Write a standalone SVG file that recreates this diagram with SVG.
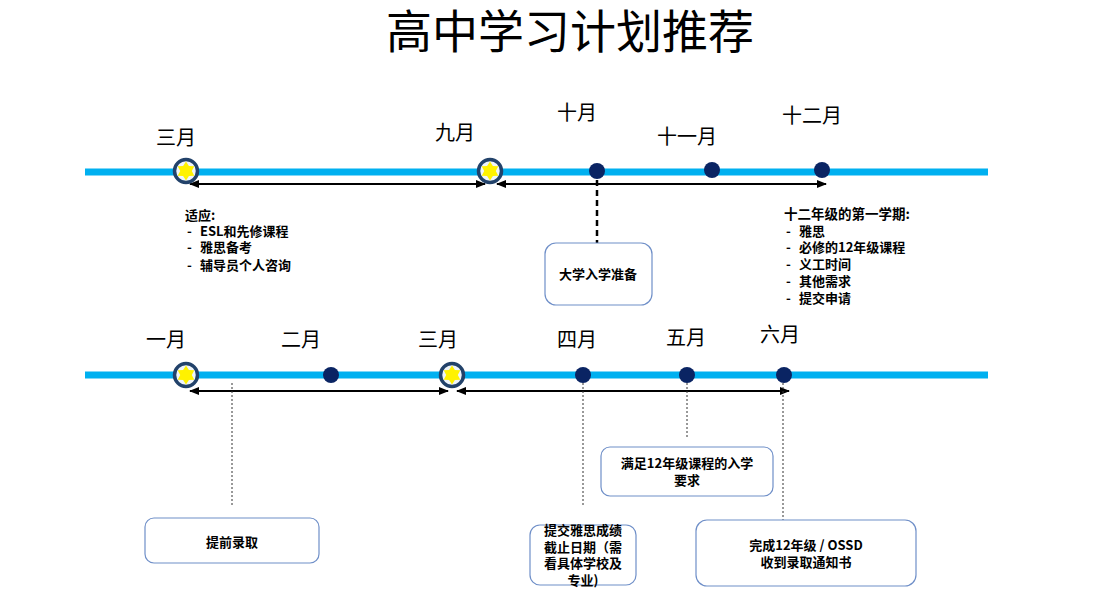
<svg xmlns="http://www.w3.org/2000/svg" width="1100" height="590" viewBox="0 0 1100 590">
<defs>
<style>
.t{font-family:"Noto Sans CJK SC","Liberation Sans",sans-serif;fill:#000}
.title{font-size:46px;font-weight:400}
.m{font-size:20px;font-weight:400;text-anchor:middle}
.b{font-size:13px;font-weight:700}
.bc{font-size:13px;font-weight:700;text-anchor:middle}
.tl{stroke:#00B0F0;stroke-width:7}
.dot{fill:#0A2463}
.arr{stroke:#000;stroke-width:2;fill:none;marker-start:url(#ah);marker-end:url(#ah)}
.box{fill:#fff;stroke:#6F8FC8;stroke-width:1.2}
.dotl{stroke:#333;stroke-width:1;stroke-dasharray:2 2}
</style>
<marker id="ah" viewBox="0 0 10 10" refX="9" refY="5" markerWidth="5" markerHeight="5" orient="auto-start-reverse" markerUnits="strokeWidth">
<path d="M0,1 L10,5 L0,9 Z" fill="#000"/>
</marker>
<g id="star">
<circle r="11.5" fill="#EEF4FA" stroke="#22426A" stroke-width="3.5"/>
<polygon points="0,-9.6 2.9,-5 8.3,-4.8 5.8,0 8.3,4.8 2.9,5 0,9.6 -2.9,5 -8.3,4.8 -5.8,0 -8.3,-4.8 -2.9,-5" fill="#FFF200"/>
</g>
</defs>
<rect width="1100" height="590" fill="#fff"/>
<text class="t title" x="570" y="48" text-anchor="middle">高中学习计划推荐</text>

<g id="connectors">
<line class="tl" x1="85" y1="172" x2="988" y2="172"/>
<line class="tl" x1="85" y1="375" x2="988" y2="375"/>
<line class="arr" x1="190" y1="184" x2="485" y2="184"/>
<line class="arr" x1="497" y1="184" x2="826" y2="184"/>
<line class="arr" x1="190" y1="391" x2="448" y2="391"/>
<line class="arr" x1="457" y1="391" x2="789" y2="391"/>
<line x1="597" y1="180" x2="597" y2="243" stroke="#000" stroke-width="2.5" stroke-dasharray="6 4"/>
<line class="dotl" x1="232" y1="383" x2="232" y2="506"/>
<line class="dotl" x1="583" y1="383" x2="583" y2="505"/>
<line class="dotl" x1="687" y1="383" x2="687" y2="437"/>
<line class="dotl" x1="783" y1="383" x2="783" y2="520"/>
</g>

<g id="top-markers">
<use href="#star" x="186" y="171"/>
<use href="#star" x="490" y="171"/>
<circle class="dot" cx="597" cy="171" r="8"/>
<circle class="dot" cx="712" cy="170" r="8"/>
<circle class="dot" cx="822" cy="170" r="8"/>
</g>
<g id="bottom-markers">
<use href="#star" x="186" y="375"/>
<use href="#star" x="452" y="375"/>
<circle class="dot" cx="331" cy="375" r="8"/>
<circle class="dot" cx="583" cy="375" r="8"/>
<circle class="dot" cx="687" cy="375" r="8"/>
<circle class="dot" cx="784" cy="375" r="8"/>
</g>

<g id="top-labels">
<text class="t m" x="176" y="145">三月</text>
<text class="t m" x="455" y="140">九月</text>
<text class="t m" x="577" y="120">十月</text>
<text class="t m" x="687" y="144">十一月</text>
<text class="t m" x="812" y="123">十二月</text>
</g>
<g id="bottom-labels">
<text class="t m" x="166" y="347">一月</text>
<text class="t m" x="301" y="347">二月</text>
<text class="t m" x="438" y="347">三月</text>
<text class="t m" x="577" y="347">四月</text>
<text class="t m" x="686" y="345">五月</text>
<text class="t m" x="780" y="342">六月</text>
</g>

<g id="note-adapt">
<text class="t b" x="185" y="220">适应:</text>
<text class="t b" x="187" y="236">-</text><text class="t b" x="200" y="236">ESL和先修课程</text>
<text class="t b" x="187" y="252">-</text><text class="t b" x="200" y="252">雅思备考</text>
<text class="t b" x="187" y="270">-</text><text class="t b" x="200" y="270">辅导员个人咨询</text>
</g>
<g id="note-semester">
<text class="t b" x="784" y="219" style="font-size:13.5px">十二年级的第一学期:</text>
<text class="t b" x="786" y="236">-</text><text class="t b" x="799" y="236">雅思</text>
<text class="t b" x="786" y="252">-</text><text class="t b" x="799" y="252">必修的12年级课程</text>
<text class="t b" x="786" y="269">-</text><text class="t b" x="799" y="269">义工时间</text>
<text class="t b" x="786" y="286">-</text><text class="t b" x="799" y="286">其他需求</text>
<text class="t b" x="786" y="303">-</text><text class="t b" x="799" y="303">提交申请</text>
</g>

<g id="box-prep">
<rect class="box" x="545" y="243" width="107" height="62" rx="11"/>
<text class="t bc" x="598" y="279">大学入学准备</text>
</g>
<g id="box-early">
<rect class="box" x="145" y="518" width="174" height="45" rx="9"/>
<text class="t bc" x="232" y="547">提前录取</text>
</g>
<g id="box-req">
<rect class="box" x="601" y="447" width="172" height="49" rx="9"/>
<text class="t bc" x="687" y="468">满足12年级课程的入学</text>
<text class="t bc" x="687" y="485">要求</text>
</g>
<g id="box-ielts">
<rect class="box" x="530" y="525" width="106" height="60" rx="10"/>
<text class="t bc" x="583" y="535">提交雅思成绩</text>
<text class="t bc" x="583" y="552">截止日期（需</text>
<text class="t bc" x="583" y="568">看具体学校及</text>
<text class="t bc" x="583" y="585">专业)</text>
</g>
<g id="box-finish">
<rect class="box" x="696" y="520" width="220" height="66" rx="11"/>
<text class="t bc" x="806" y="550">完成12年级 / OSSD</text>
<text class="t bc" x="806" y="567">收到录取通知书</text>
</g>
</svg>
